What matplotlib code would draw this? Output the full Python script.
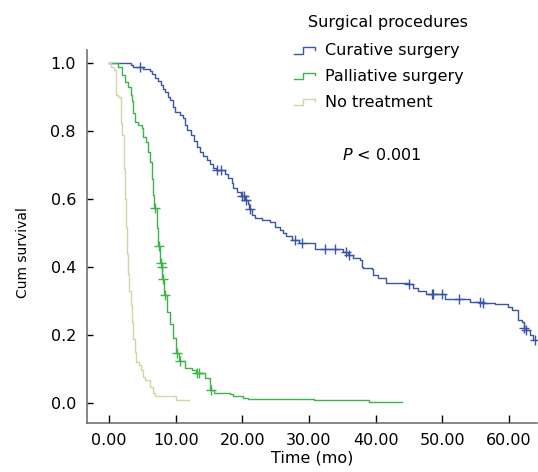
import matplotlib
matplotlib.use("Agg")

import matplotlib.pyplot as plt
import numpy as np
from matplotlib.legend_handler import HandlerBase
from matplotlib.lines import Line2D

# Kaplan-Meier steps: (time in months, survival after the drop)
cur_t = [0, 3.3, 3.6, 5.1, 6.2, 6.4, 6.9, 7.4, 7.8, 8.05, 8.4, 8.8, 9.15, 9.55, 9.9,
         10.65, 11.15, 11.35, 11.75, 12.25, 12.75, 13.25, 13.65, 14.15, 14.65, 15.15,
         15.65, 16.0, 17.4, 17.9, 18.4, 18.65, 19.15, 19.8, 20.4, 20.8, 21.0, 21.4,
         21.9, 22.9, 24.1, 24.85, 25.6, 26.1, 26.6, 27.4, 28.5, 30.85, 35.1, 35.8,
         36.6, 37.6, 38.0, 38.1, 39.4, 39.6, 40.4, 41.6, 44.9, 45.6, 46.4, 47.5,
         50.4, 54.1, 55.9, 57.9, 59.9, 60.4, 61.4, 62.0, 62.2, 62.5, 63.1, 63.6]
cur_s = [1.0, 0.995, 0.99, 0.983, 0.977, 0.97, 0.956, 0.948, 0.936, 0.926, 0.916, 0.902,
         0.892, 0.872, 0.858, 0.848, 0.838, 0.818, 0.804, 0.789, 0.772, 0.755, 0.74,
         0.728, 0.716, 0.703, 0.692, 0.686, 0.676, 0.662, 0.647, 0.632, 0.622, 0.61,
         0.597, 0.585, 0.573, 0.554, 0.544, 0.539, 0.534, 0.52, 0.51, 0.50, 0.492,
         0.48, 0.472, 0.453, 0.444, 0.436, 0.426, 0.421, 0.40, 0.397, 0.394, 0.377,
         0.368, 0.355, 0.35, 0.338, 0.33, 0.323, 0.306, 0.299, 0.295, 0.291, 0.284,
         0.274, 0.245, 0.24, 0.222, 0.215, 0.20, 0.186]
cur_end = 63.9
cur_cens = [4.65, 16.15, 16.75, 20.0, 20.2, 20.5, 21.1, 27.9, 29.0, 32.4, 33.9, 35.6,
            36.0, 45.0, 48.4, 48.6, 49.9, 52.5, 55.6, 56.1, 62.3, 62.6, 63.9]

pal_t = [0, 1.3, 1.9, 2.4, 2.9, 3.25, 3.5, 3.65, 3.9, 4.4, 4.9, 5.15, 5.5, 5.9, 6.15,
         6.4, 6.65, 6.8, 7.15, 7.4, 7.7, 7.9, 8.0, 8.3, 8.65, 9.15, 9.65, 10.1, 10.5,
         11.4, 12.4, 13.0, 14.35, 15.2, 15.7, 18.1, 18.6, 20.1, 20.9, 30.8, 39.0]
pal_s = [1.0, 0.99, 0.966, 0.946, 0.93, 0.907, 0.89, 0.853, 0.828, 0.82, 0.81, 0.784,
         0.77, 0.74, 0.71, 0.66, 0.613, 0.574, 0.516, 0.464, 0.413, 0.40, 0.365, 0.32,
         0.27, 0.233, 0.193, 0.147, 0.124, 0.103, 0.097, 0.088, 0.074, 0.039, 0.031,
         0.027, 0.02, 0.017, 0.013, 0.009, 0.004]
pal_end = 44.0
pal_cens = [6.9, 7.5, 7.8, 7.95, 8.05, 8.4, 10.25, 10.65, 13.2, 13.5, 15.35]

non_t = [0, 0.3, 0.75, 1.0, 1.4, 1.75, 2.0, 2.2, 2.35, 2.5, 2.65, 2.85, 3.0, 3.25, 3.5,
         3.65, 3.85, 4.0, 4.5, 4.75, 5.15, 5.4, 6.15, 6.6, 6.9, 10.0]
non_s = [1.0, 0.99, 0.98, 0.907, 0.90, 0.824, 0.79, 0.69, 0.60, 0.52, 0.44, 0.38, 0.33,
         0.29, 0.24, 0.19, 0.15, 0.122, 0.113, 0.098, 0.078, 0.069, 0.049, 0.03, 0.02,
         0.01]
non_end = 12.0
non_cens = []

groups = ["Curative surgery", "Palliative surgery", "No treatment"]
colors = ["#3a55a6", "#3bb54a", "#d9d3a2"]

x_ticks = [0, 10, 20, 30, 40, 50, 60]
y_ticks = [0.0, 0.2, 0.4, 0.6, 0.8, 1.0]


class StepHandler(HandlerBase):
    def create_artists(self, legend, orig_handle, xdescent, ydescent,
                       width, height, fontsize, trans):
        xs = np.array([0.0, 0.42, 0.42, 1.0, 1.0]) * width - xdescent
        ys = np.array([0.15, 0.15, 0.75, 0.75, 0.5]) * height - ydescent
        line = Line2D(xs, ys, color=orig_handle.get_color(), lw=1.0,
                      transform=trans)
        return [line]


plt.rcParams["font.family"] = "DejaVu Sans"

fig = plt.figure(figsize=(5.38, 4.72), dpi=100)
ax = fig.add_axes([0.1617, 0.1038, 0.8364, 0.790])

series = [(cur_t, cur_s, cur_end, cur_cens),
          (pal_t, pal_s, pal_end, pal_cens),
          (non_t, non_s, non_end, non_cens)]

handles = []
for (t, s, end, cens), name, col in zip(series, groups, colors):
    tt = np.append(t, end)
    ss = np.append(s, s[-1])
    h, = ax.step(tt, ss, where="post", color=col, lw=1.0, label=name)
    handles.append(h)
    if cens:
        idx = np.searchsorted(t, cens, side="right") - 1
        ax.plot(cens, np.array(s)[idx], ls="none", marker="+", ms=7,
                mew=1.0, color=col)

ax.set_xlim(-3.3, 64.2)
ax.set_ylim(-0.058, 1.039)
ax.set_xticks(x_ticks)
ax.set_xticklabels([f"{v:.2f}" for v in x_ticks])
ax.set_yticks(y_ticks)
ax.set_yticklabels([f"{v:.1f}" for v in y_ticks])

for side in ["top", "right"]:
    ax.spines[side].set_visible(False)
for side in ["left", "bottom"]:
    ax.spines[side].set_color("#666666")
    ax.spines[side].set_linewidth(1.1)

ax.tick_params(axis="x", direction="in", length=6, width=1.0, pad=7,
               labelsize=11.5, colors="black")
ax.tick_params(axis="y", direction="in", length=4.5, width=1.0, pad=8,
               labelsize=11.5, colors="black")

ax.set_xlabel("Time (mo)", fontsize=11.5, labelpad=2)
ax.set_ylabel("Cum survival", fontsize=10)
ax.yaxis.set_label_coords(-0.127, 0.458)

ax.text(0.567, 0.7185, "$\\it{P}$ < 0.001", transform=ax.transAxes,
        fontsize=11.5, ha="left", va="center")

# legend title placed on its own, entries below it
fig.text(387.5 / 538, 1 - 22 / 472, "Surgical procedures", fontsize=11.5,
         ha="center", va="center")
leg = fig.legend(handles=handles, labels=groups,
                 loc="upper left", bbox_to_anchor=(283 / 538, 1 - 32 / 472),
                 frameon=False, fontsize=11.5,
                 handler_map={Line2D: StepHandler()}, handlelength=1.3,
                 handletextpad=0.6, labelspacing=0.68, borderpad=0.2)

fig.savefig("out.png", dpi=100)
plt.close(fig)
